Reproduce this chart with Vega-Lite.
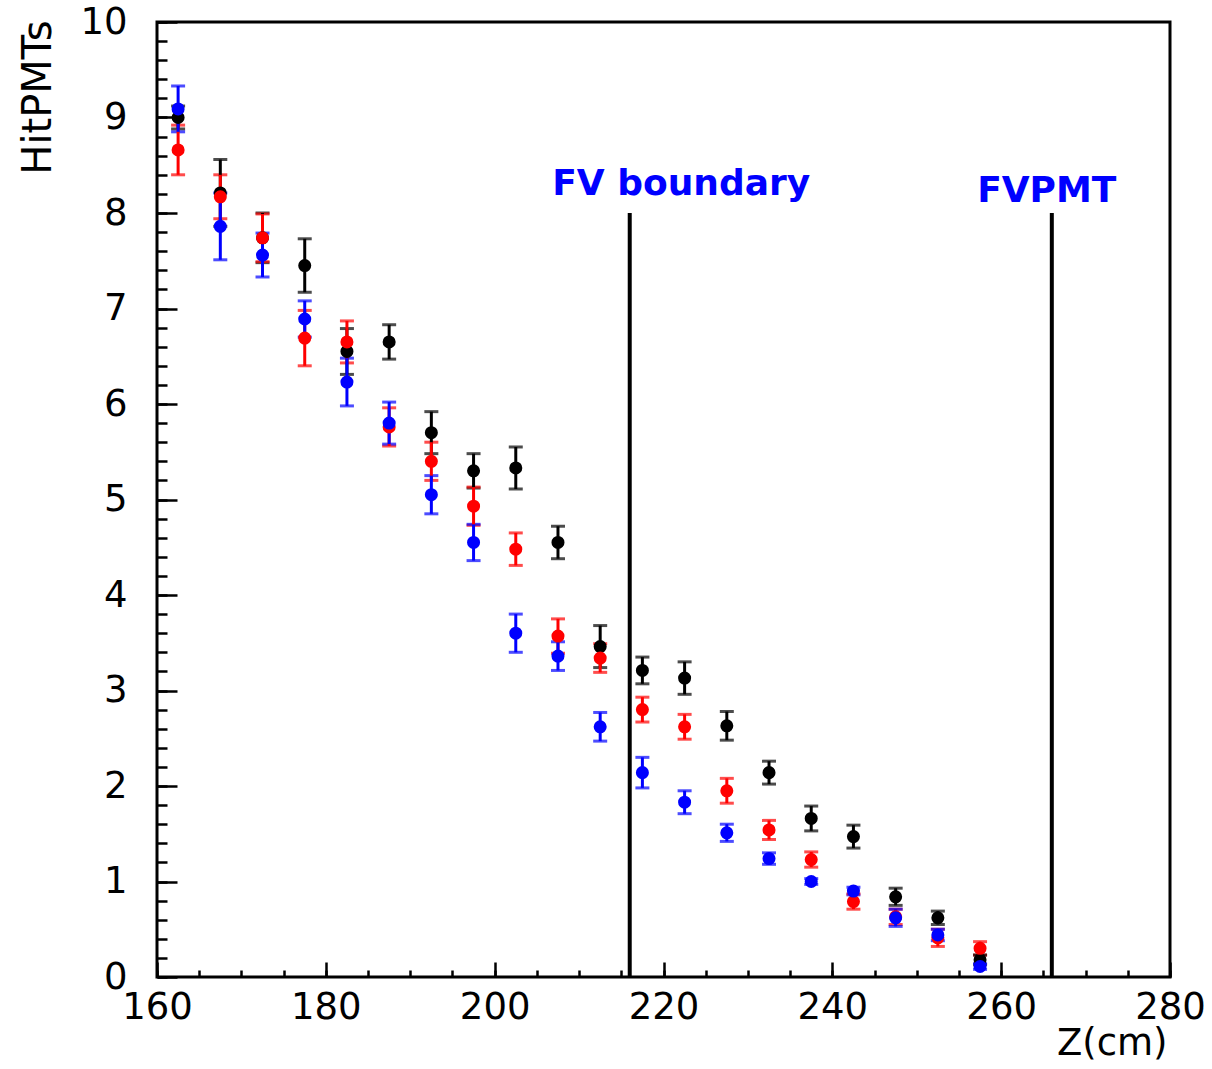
{
  "$schema": "https://vega.github.io/schema/vega-lite/v6.json",
  "width": 1013,
  "height": 955,
  "autosize": {"type": "none"},
  "padding": {"left": 157, "top": 22, "right": 42, "bottom": 92},
  "background": "white",
  "config": {
    "view": {"stroke": "black", "strokeWidth": 3},
    "axis": {"domain": false, "grid": false, "tickColor": "black", "tickWidth": 2.5, "labelFont": "DejaVu Sans", "titleFont": "DejaVu Sans", "labelColor": "black", "titleColor": "black", "labelFlush": false, "labelOverlap": false}
  },
  "datasets": {
    "pts": [
      {"z": 162.5, "v": 9.00, "e": 0.12, "s": "black"},
      {"z": 167.5, "v": 8.21, "e": 0.35, "s": "black"},
      {"z": 172.5, "v": 7.74, "e": 0.26, "s": "black"},
      {"z": 177.5, "v": 7.45, "e": 0.28, "s": "black"},
      {"z": 182.5, "v": 6.55, "e": 0.24, "s": "black"},
      {"z": 187.5, "v": 6.65, "e": 0.18, "s": "black"},
      {"z": 192.5, "v": 5.70, "e": 0.22, "s": "black"},
      {"z": 197.5, "v": 5.30, "e": 0.18, "s": "black"},
      {"z": 202.5, "v": 5.33, "e": 0.22, "s": "black"},
      {"z": 207.5, "v": 4.55, "e": 0.17, "s": "black"},
      {"z": 212.5, "v": 3.46, "e": 0.22, "s": "black"},
      {"z": 217.5, "v": 3.21, "e": 0.14, "s": "black"},
      {"z": 222.5, "v": 3.13, "e": 0.17, "s": "black"},
      {"z": 227.5, "v": 2.63, "e": 0.15, "s": "black"},
      {"z": 232.5, "v": 2.14, "e": 0.12, "s": "black"},
      {"z": 237.5, "v": 1.66, "e": 0.13, "s": "black"},
      {"z": 242.5, "v": 1.47, "e": 0.12, "s": "black"},
      {"z": 247.5, "v": 0.84, "e": 0.09, "s": "black"},
      {"z": 252.5, "v": 0.62, "e": 0.07, "s": "black"},
      {"z": 257.5, "v": 0.18, "e": 0.05, "s": "black"},
      {"z": 162.5, "v": 8.66, "e": 0.26, "s": "red"},
      {"z": 167.5, "v": 8.17, "e": 0.23, "s": "red"},
      {"z": 172.5, "v": 7.74, "e": 0.25, "s": "red"},
      {"z": 177.5, "v": 6.69, "e": 0.29, "s": "red"},
      {"z": 182.5, "v": 6.65, "e": 0.22, "s": "red"},
      {"z": 187.5, "v": 5.76, "e": 0.20, "s": "red"},
      {"z": 192.5, "v": 5.40, "e": 0.20, "s": "red"},
      {"z": 197.5, "v": 4.93, "e": 0.20, "s": "red"},
      {"z": 202.5, "v": 4.48, "e": 0.17, "s": "red"},
      {"z": 207.5, "v": 3.57, "e": 0.18, "s": "red"},
      {"z": 212.5, "v": 3.34, "e": 0.15, "s": "red"},
      {"z": 217.5, "v": 2.80, "e": 0.13, "s": "red"},
      {"z": 222.5, "v": 2.62, "e": 0.13, "s": "red"},
      {"z": 227.5, "v": 1.95, "e": 0.13, "s": "red"},
      {"z": 232.5, "v": 1.54, "e": 0.10, "s": "red"},
      {"z": 237.5, "v": 1.23, "e": 0.08, "s": "red"},
      {"z": 242.5, "v": 0.79, "e": 0.08, "s": "red"},
      {"z": 247.5, "v": 0.63, "e": 0.08, "s": "red"},
      {"z": 252.5, "v": 0.41, "e": 0.09, "s": "red"},
      {"z": 257.5, "v": 0.30, "e": 0.07, "s": "red"},
      {"z": 162.5, "v": 9.09, "e": 0.24, "s": "blue"},
      {"z": 167.5, "v": 7.86, "e": 0.35, "s": "blue"},
      {"z": 172.5, "v": 7.56, "e": 0.23, "s": "blue"},
      {"z": 177.5, "v": 6.89, "e": 0.19, "s": "blue"},
      {"z": 182.5, "v": 6.23, "e": 0.25, "s": "blue"},
      {"z": 187.5, "v": 5.80, "e": 0.22, "s": "blue"},
      {"z": 192.5, "v": 5.05, "e": 0.20, "s": "blue"},
      {"z": 197.5, "v": 4.55, "e": 0.19, "s": "blue"},
      {"z": 202.5, "v": 3.60, "e": 0.20, "s": "blue"},
      {"z": 207.5, "v": 3.36, "e": 0.15, "s": "blue"},
      {"z": 212.5, "v": 2.62, "e": 0.15, "s": "blue"},
      {"z": 217.5, "v": 2.14, "e": 0.16, "s": "blue"},
      {"z": 222.5, "v": 1.83, "e": 0.12, "s": "blue"},
      {"z": 227.5, "v": 1.51, "e": 0.09, "s": "blue"},
      {"z": 232.5, "v": 1.24, "e": 0.06, "s": "blue"},
      {"z": 237.5, "v": 1.00, "e": 0.03, "s": "blue"},
      {"z": 242.5, "v": 0.90, "e": 0.04, "s": "blue"},
      {"z": 247.5, "v": 0.62, "e": 0.09, "s": "blue"},
      {"z": 252.5, "v": 0.44, "e": 0.06, "s": "blue"},
      {"z": 257.5, "v": 0.11, "e": 0.03, "s": "blue"}
    ],
    "lines": [
      {"z": 216, "lo": 0, "hi": 8, "label": "FV boundary", "lz": 222.1, "ly": 8.19},
      {"z": 266, "lo": 0, "hi": 8, "label": "FVPMT", "lz": 265.4, "ly": 8.12}
    ]
  },
  "layer": [
    {
      "data": {"name": "lines"},
      "mark": {"type": "rule", "color": "black", "strokeWidth": 4},
      "encoding": {
        "x": {"field": "z", "type": "quantitative", "scale": {"domain": [160, 280], "nice": false, "zero": false},
              "axis": {"orient": "bottom", "values": [160,165,170,175,180,185,190,195,200,205,210,215,220,225,230,235,240,245,250,255,260,265,270,275,280], "tickSize": -7, "labels": false, "title": null}},
        "y": {"field": "lo", "type": "quantitative", "scale": {"domain": [0, 10], "nice": false},
              "axis": {"orient": "left", "values": [0,0.2,0.4,0.6,0.8,1,1.2,1.4,1.6,1.8,2,2.2,2.4,2.6,2.8,3,3.2,3.4,3.6,3.8,4,4.2,4.4,4.6,4.8,5,5.2,5.4,5.6,5.8,6,6.2,6.4,6.6,6.8,7,7.2,7.4,7.6,7.8,8,8.2,8.4,8.6,8.8,9,9.2,9.4,9.6,9.8,10], "tickSize": -10, "labels": false, "title": null}},
        "y2": {"field": "hi"}
      }
    },
    {
      "data": {"name": "pts"},
      "mark": {"type": "errorbar", "ticks": true, "size": 14, "thickness": 3},
      "encoding": {
        "x": {"field": "z", "type": "quantitative",
              "axis": {"orient": "bottom", "values": [160, 180, 200, 220, 240, 260, 280], "tickSize": -15, "labelFontSize": 37, "labelPadding": 27,
                       "title": "Z(cm)", "titleFontSize": 37, "titleFontWeight": "normal", "titleAlign": "right", "titleBaseline": "alphabetic", "titleAnchor": null, "titleX": 1010, "titleY": 77}},
        "y": {"field": "v", "type": "quantitative",
              "axis": {"orient": "left", "values": [0,1,2,3,4,5,6,7,8,9,10], "tickSize": -20, "labelFontSize": 37, "labelPadding": 50,
                       "title": "HitPMTs", "titleFontSize": 40, "titleFontWeight": "normal", "titleAngle": -90, "titleAlign": "right", "titleBaseline": "alphabetic", "titleAnchor": null, "titleX": -107, "titleY": -2}},
        "yError": {"field": "e"},
        "color": {"field": "s", "type": "nominal", "scale": {"domain": ["black", "red", "blue"], "range": ["#000000", "#ff0000", "#0000ff"]}, "legend": null}
      }
    },
    {
      "data": {"name": "pts"},
      "mark": {"type": "circle", "size": 170, "opacity": 1},
      "encoding": {
        "x": {"field": "z", "type": "quantitative", "axis": null},
        "y": {"field": "v", "type": "quantitative", "axis": null},
        "color": {"field": "s", "type": "nominal", "scale": {"domain": ["black", "red", "blue"], "range": ["#000000", "#ff0000", "#0000ff"]}, "legend": null}
      }
    },
    {
      "data": {"name": "lines"},
      "mark": {"type": "text", "font": "DejaVu Sans", "fontWeight": "bold", "fontSize": 36, "color": "#0000ff", "align": "center", "baseline": "alphabetic"},
      "encoding": {
        "x": {"field": "lz", "type": "quantitative", "axis": null},
        "y": {"field": "ly", "type": "quantitative", "axis": null},
        "text": {"field": "label"}
      }
    }
  ],
  "resolve": {"axis": {"x": "independent", "y": "independent"}}
}
